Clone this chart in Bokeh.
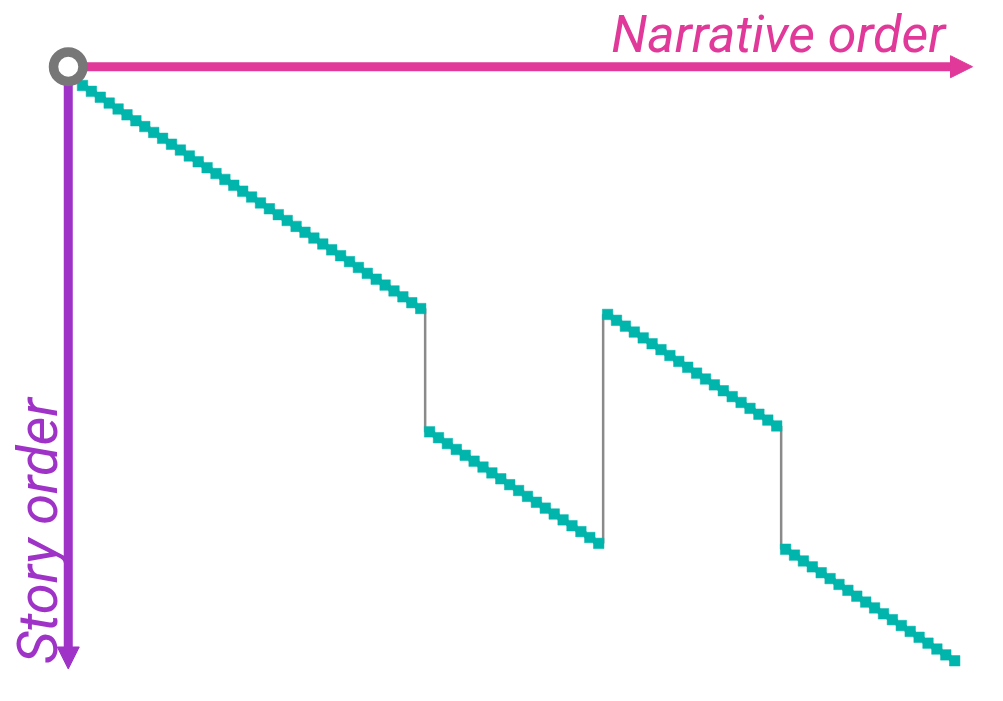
import math
from bokeh.plotting import figure
from bokeh.models import Range1d, Arrow, NormalHead, Label
from bokeh.embed import file_html
from bokeh.resources import INLINE

# Narrative position of each event (x) and its position in the story (y)
narrative = list(range(99))
story = [
    0, 1, 2, 3, 4, 5, 6, 7, 8, 9, 10, 11, 12, 13, 14, 15, 16, 17, 18, 19,
    20, 21, 22, 23, 24, 25, 26, 27, 28, 29, 30, 31, 32, 33, 34, 35, 36, 37, 38,
    59, 60, 61, 62, 63, 64, 65, 66, 67, 68, 69, 70, 71, 72, 73, 74, 75, 76, 77, 78,
    39, 40, 41, 42, 43, 44, 45, 46, 47, 48, 49, 50, 51, 52, 53, 54, 55, 56, 57, 58,
    79, 80, 81, 82, 83, 84, 85, 86, 87, 88, 89, 90, 91, 92, 93, 94, 95, 96, 97, 98,
]
x_label = "Narrative order"
y_label = "Story order"

TEAL = "#00b5ac"
PINK = "#e0399a"
PURPLE = "#9f33c8"
GRAY = "#777777"

W, H = 995, 693
px_x, px_y = 8.9, 5.87
x0 = -82 / px_x
y0 = -85 / px_y
p = figure(width=W, height=H, output_backend="svg", toolbar_location=None,
           x_range=Range1d(x0, x0 + W / px_x),
           y_range=Range1d(y0 + H / px_y, y0),
           x_axis_type=None, y_axis_type=None, min_border=0,
           outline_line_color=None)
p.grid.visible = False

ox, oy = -1.6, -3.2
x_end, y_end = 100.0, 99.4

p.add_layout(Arrow(end=NormalHead(size=22, fill_color=PINK, line_color=PINK, line_width=1),
                   x_start=ox, y_start=oy, x_end=x_end, y_end=oy,
                   line_color=PINK, line_width=9, level="underlay"))
p.add_layout(Arrow(end=NormalHead(size=22, fill_color=PURPLE, line_color=PURPLE, line_width=1),
                   x_start=ox, y_start=oy, x_end=ox, y_end=y_end,
                   line_color=PURPLE, line_width=9, level="underlay"))

p.step(narrative, story, mode="center", line_color="#8a8a8a", line_width=2.5)
p.scatter(narrative, story, marker="square", size=10.5, fill_color=TEAL, line_color=TEAL, line_width=0.5)

p.scatter([ox], [oy], marker="circle", size=29.5, fill_color="white",
          line_color=GRAY, line_width=9.5)

p.add_layout(Label(x=96.95, y=-8.7, text=x_label, text_align="right",
                   text_baseline="alphabetic", text_color=PINK,
                   text_font="Roboto", text_font_style="italic",
                   text_font_size="52px"))
p.add_layout(Label(x=-4.95, y=98.5, text=y_label, angle=math.pi / 2,
                   text_align="left", text_baseline="alphabetic",
                   text_color=PURPLE, text_font="Roboto",
                   text_font_style="italic", text_font_size="56px"))

open("out.html", "w").write(file_html(p, INLINE))
